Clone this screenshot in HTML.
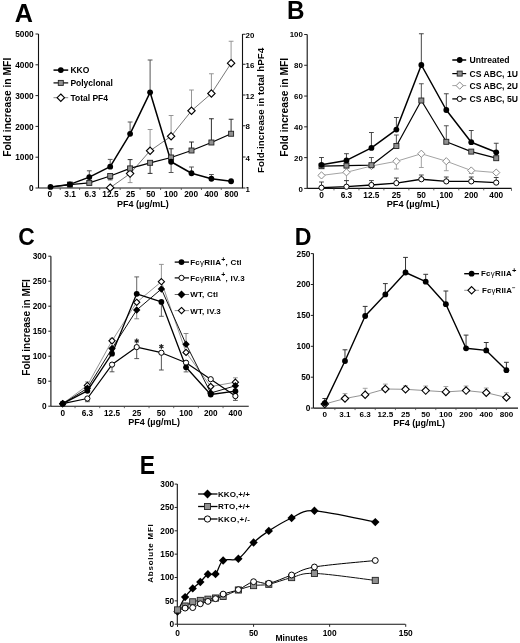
<!DOCTYPE html>
<html><head><meta charset="utf-8"><style>
html,body{margin:0;padding:0;background:#fff;}
svg{display:block;font-family:"Liberation Sans", sans-serif;filter:blur(0.3px);}
</style></head><body>
<svg width="520" height="643" viewBox="0 0 520 643">
<rect width="520" height="643" fill="#fff"/>
<text transform="translate(14.87 22.0) scale(0.996 1)" font-size="25.3" font-weight="bold">A</text>
<line x1="38.5" y1="34" x2="38.5" y2="188" stroke="#111" stroke-width="1.1"/>
<line x1="242.5" y1="34" x2="242.5" y2="188" stroke="#111" stroke-width="1.1"/>
<line x1="38.5" y1="188" x2="243.0" y2="188" stroke="#111" stroke-width="1.1"/>
<line x1="35.5" y1="188.0" x2="38.5" y2="188.0" stroke="#222" stroke-width="1"/>
<text x="33.7" y="191.2" font-size="8.3" font-weight="bold" text-anchor="end" fill="#000">0</text>
<line x1="35.5" y1="157.2" x2="38.5" y2="157.2" stroke="#222" stroke-width="1"/>
<text x="33.7" y="160.39999999999998" font-size="8.3" font-weight="bold" text-anchor="end" fill="#000">1000</text>
<line x1="35.5" y1="126.4" x2="38.5" y2="126.4" stroke="#222" stroke-width="1"/>
<text x="33.7" y="129.6" font-size="8.3" font-weight="bold" text-anchor="end" fill="#000">2000</text>
<line x1="35.5" y1="95.6" x2="38.5" y2="95.6" stroke="#222" stroke-width="1"/>
<text x="33.7" y="98.8" font-size="8.3" font-weight="bold" text-anchor="end" fill="#000">3000</text>
<line x1="35.5" y1="64.8" x2="38.5" y2="64.8" stroke="#222" stroke-width="1"/>
<text x="33.7" y="68.0" font-size="8.3" font-weight="bold" text-anchor="end" fill="#000">4000</text>
<line x1="35.5" y1="34.0" x2="38.5" y2="34.0" stroke="#222" stroke-width="1"/>
<text x="33.7" y="37.2" font-size="8.3" font-weight="bold" text-anchor="end" fill="#000">5000</text>
<line x1="242.5" y1="34.25" x2="245.5" y2="34.25" stroke="#222" stroke-width="1"/>
<text x="245.6" y="37.75" font-size="7.9" font-weight="bold" text-anchor="start" fill="#000">20</text>
<line x1="242.5" y1="64.25" x2="245.5" y2="64.25" stroke="#222" stroke-width="1"/>
<text x="245.6" y="67.75" font-size="7.9" font-weight="bold" text-anchor="start" fill="#000">16</text>
<line x1="242.5" y1="95" x2="245.5" y2="95" stroke="#222" stroke-width="1"/>
<text x="245.6" y="98.5" font-size="7.9" font-weight="bold" text-anchor="start" fill="#000">12</text>
<line x1="242.5" y1="125.75" x2="245.5" y2="125.75" stroke="#222" stroke-width="1"/>
<text x="245.6" y="129.25" font-size="7.9" font-weight="bold" text-anchor="start" fill="#000">8</text>
<line x1="242.5" y1="157" x2="245.5" y2="157" stroke="#222" stroke-width="1"/>
<text x="245.6" y="160.5" font-size="7.9" font-weight="bold" text-anchor="start" fill="#000">4</text>
<line x1="242.5" y1="188" x2="245.5" y2="188" stroke="#222" stroke-width="1"/>
<text x="245.6" y="191.5" font-size="7.9" font-weight="bold" text-anchor="start" fill="#000">1</text>
<line x1="60.2" y1="188" x2="60.2" y2="190" stroke="#444" stroke-width="0.8"/>
<line x1="79.6" y1="188" x2="79.6" y2="190" stroke="#444" stroke-width="0.8"/>
<line x1="99.75" y1="188" x2="99.75" y2="190" stroke="#444" stroke-width="0.8"/>
<line x1="120.15" y1="188" x2="120.15" y2="190" stroke="#444" stroke-width="0.8"/>
<line x1="140.1" y1="188" x2="140.1" y2="190" stroke="#444" stroke-width="0.8"/>
<line x1="160.6" y1="188" x2="160.6" y2="190" stroke="#444" stroke-width="0.8"/>
<line x1="181.3" y1="188" x2="181.3" y2="190" stroke="#444" stroke-width="0.8"/>
<line x1="201.45" y1="188" x2="201.45" y2="190" stroke="#444" stroke-width="0.8"/>
<line x1="221.25" y1="188" x2="221.25" y2="190" stroke="#444" stroke-width="0.8"/>
<text x="49.9" y="196.7" font-size="8.3" font-weight="bold" text-anchor="middle" fill="#000">0</text>
<text x="70.08" y="196.7" font-size="8.3" font-weight="bold" text-anchor="middle" fill="#000">3.1</text>
<text x="90.26" y="196.7" font-size="8.3" font-weight="bold" text-anchor="middle" fill="#000">6.3</text>
<text x="110.44" y="196.7" font-size="8.3" font-weight="bold" text-anchor="middle" fill="#000">12.5</text>
<text x="130.62" y="196.7" font-size="8.3" font-weight="bold" text-anchor="middle" fill="#000">25</text>
<text x="150.8" y="196.7" font-size="8.3" font-weight="bold" text-anchor="middle" fill="#000">50</text>
<text x="170.98" y="196.7" font-size="8.3" font-weight="bold" text-anchor="middle" fill="#000">100</text>
<text x="191.16" y="196.7" font-size="8.3" font-weight="bold" text-anchor="middle" fill="#000">200</text>
<text x="211.34" y="196.7" font-size="8.3" font-weight="bold" text-anchor="middle" fill="#000">400</text>
<text x="231.52" y="196.7" font-size="8.3" font-weight="bold" text-anchor="middle" fill="#000">800</text>
<text x="142.8" y="206.9" font-size="9" font-weight="bold" text-anchor="middle" fill="#000">PF4 (µg/mL)</text>
<text x="11.3" y="107.25" font-size="10.3" font-weight="bold" text-anchor="middle" fill="#000" transform="rotate(-90 11.3 107.25)">Fold increase in MFI</text>
<text x="263.8" y="110.35" font-size="9.8" font-weight="bold" text-anchor="middle" fill="#000" transform="rotate(-90 263.8 110.35)">Fold-increase in total hPF4</text>
<line x1="130.1" y1="173.6" x2="130.1" y2="182.6" stroke="#8a8a8a" stroke-width="0.9"/>
<line x1="127.69999999999999" y1="182.6" x2="132.5" y2="182.6" stroke="#8a8a8a" stroke-width="0.9"/>
<line x1="150.1" y1="150.75" x2="150.1" y2="129.5" stroke="#8a8a8a" stroke-width="0.9"/>
<line x1="147.7" y1="129.5" x2="152.5" y2="129.5" stroke="#8a8a8a" stroke-width="0.9"/>
<line x1="171.1" y1="136.25" x2="171.1" y2="115.5" stroke="#8a8a8a" stroke-width="0.9"/>
<line x1="168.7" y1="115.5" x2="173.5" y2="115.5" stroke="#8a8a8a" stroke-width="0.9"/>
<line x1="191.5" y1="110.75" x2="191.5" y2="90" stroke="#8a8a8a" stroke-width="0.9"/>
<line x1="189.1" y1="90" x2="193.9" y2="90" stroke="#8a8a8a" stroke-width="0.9"/>
<line x1="211.4" y1="93.5" x2="211.4" y2="73.75" stroke="#8a8a8a" stroke-width="0.9"/>
<line x1="209.0" y1="73.75" x2="213.8" y2="73.75" stroke="#8a8a8a" stroke-width="0.9"/>
<line x1="231.1" y1="63.2" x2="231.1" y2="41.25" stroke="#8a8a8a" stroke-width="0.9"/>
<line x1="228.7" y1="41.25" x2="233.5" y2="41.25" stroke="#8a8a8a" stroke-width="0.9"/>
<line x1="110.2" y1="176" x2="110.2" y2="179.8" stroke="#1a1a1a" stroke-width="0.9"/>
<line x1="107.8" y1="179.8" x2="112.60000000000001" y2="179.8" stroke="#1a1a1a" stroke-width="0.9"/>
<line x1="130.1" y1="168.4" x2="130.1" y2="159.6" stroke="#1a1a1a" stroke-width="0.9"/>
<line x1="127.69999999999999" y1="159.6" x2="132.5" y2="159.6" stroke="#1a1a1a" stroke-width="0.9"/>
<line x1="150.1" y1="162.8" x2="150.1" y2="173.4" stroke="#1a1a1a" stroke-width="0.9"/>
<line x1="147.7" y1="173.4" x2="152.5" y2="173.4" stroke="#1a1a1a" stroke-width="0.9"/>
<line x1="171.1" y1="157.5" x2="171.1" y2="148.75" stroke="#1a1a1a" stroke-width="0.9"/>
<line x1="168.7" y1="148.75" x2="173.5" y2="148.75" stroke="#1a1a1a" stroke-width="0.9"/>
<line x1="191.5" y1="150.5" x2="191.5" y2="142" stroke="#1a1a1a" stroke-width="0.9"/>
<line x1="189.1" y1="142" x2="193.9" y2="142" stroke="#1a1a1a" stroke-width="0.9"/>
<line x1="211.4" y1="142.5" x2="211.4" y2="118.75" stroke="#1a1a1a" stroke-width="0.9"/>
<line x1="209.0" y1="118.75" x2="213.8" y2="118.75" stroke="#1a1a1a" stroke-width="0.9"/>
<line x1="231.1" y1="133.75" x2="231.1" y2="119.25" stroke="#1a1a1a" stroke-width="0.9"/>
<line x1="228.7" y1="119.25" x2="233.5" y2="119.25" stroke="#1a1a1a" stroke-width="0.9"/>
<line x1="89.3" y1="177.1" x2="89.3" y2="170.8" stroke="#555" stroke-width="1.0"/>
<line x1="86.89999999999999" y1="170.8" x2="91.7" y2="170.8" stroke="#555" stroke-width="1.0"/>
<line x1="110.2" y1="166.7" x2="110.2" y2="159.4" stroke="#555" stroke-width="1.0"/>
<line x1="107.8" y1="159.4" x2="112.60000000000001" y2="159.4" stroke="#555" stroke-width="1.0"/>
<line x1="130.1" y1="133.8" x2="130.1" y2="122" stroke="#555" stroke-width="1.0"/>
<line x1="127.69999999999999" y1="122" x2="132.5" y2="122" stroke="#555" stroke-width="1.0"/>
<line x1="150.1" y1="92.3" x2="150.1" y2="60" stroke="#555" stroke-width="1.0"/>
<line x1="147.7" y1="60" x2="152.5" y2="60" stroke="#555" stroke-width="1.0"/>
<line x1="171.1" y1="161.75" x2="171.1" y2="172.5" stroke="#555" stroke-width="1.0"/>
<line x1="168.7" y1="172.5" x2="173.5" y2="172.5" stroke="#555" stroke-width="1.0"/>
<line x1="191.5" y1="173.25" x2="191.5" y2="167" stroke="#555" stroke-width="1.0"/>
<line x1="189.1" y1="167" x2="193.9" y2="167" stroke="#555" stroke-width="1.0"/>
<line x1="211.4" y1="178.75" x2="211.4" y2="174.5" stroke="#555" stroke-width="1.0"/>
<line x1="209.0" y1="174.5" x2="213.8" y2="174.5" stroke="#555" stroke-width="1.0"/>
<polyline points="110.20,187.70 130.10,173.60 150.10,150.75 171.10,136.25 191.50,110.75 211.40,93.50 231.10,63.20" fill="none" stroke="#555" stroke-width="0.8" stroke-linejoin="round"/>
<polyline points="50.50,187.00 69.90,184.60 89.30,182.90 110.20,176.00 130.10,168.40 150.10,162.80 171.10,157.50 191.50,150.50 211.40,142.50 231.10,133.75" fill="none" stroke="#000" stroke-width="1.2" stroke-linejoin="round"/>
<polyline points="50.50,186.90 69.90,184.40 89.30,177.10 110.20,166.70 130.10,133.80 150.10,92.30 171.10,161.75 191.50,173.25 211.40,178.75 231.10,181.25" fill="none" stroke="#000" stroke-width="1.5" stroke-linejoin="round"/>
<path d="M110.2 184.0L113.9 187.7L110.2 191.39999999999998L106.5 187.7Z" fill="#fff" stroke="#000" stroke-width="1.1"/>
<path d="M130.1 169.9L133.79999999999998 173.6L130.1 177.29999999999998L126.39999999999999 173.6Z" fill="#fff" stroke="#000" stroke-width="1.1"/>
<path d="M150.1 147.05L153.79999999999998 150.75L150.1 154.45L146.4 150.75Z" fill="#fff" stroke="#000" stroke-width="1.1"/>
<path d="M171.1 132.55L174.79999999999998 136.25L171.1 139.95L167.4 136.25Z" fill="#fff" stroke="#000" stroke-width="1.1"/>
<path d="M191.5 107.05L195.2 110.75L191.5 114.45L187.8 110.75Z" fill="#fff" stroke="#000" stroke-width="1.1"/>
<path d="M211.4 89.8L215.1 93.5L211.4 97.2L207.70000000000002 93.5Z" fill="#fff" stroke="#000" stroke-width="1.1"/>
<path d="M231.1 59.5L234.79999999999998 63.2L231.1 66.9L227.4 63.2Z" fill="#fff" stroke="#000" stroke-width="1.1"/>
<rect x="67.4" y="182.1" width="5.0" height="5.0" fill="#909090" stroke="#222" stroke-width="0.9"/>
<rect x="86.8" y="180.4" width="5.0" height="5.0" fill="#909090" stroke="#222" stroke-width="0.9"/>
<rect x="107.7" y="173.5" width="5.0" height="5.0" fill="#909090" stroke="#222" stroke-width="0.9"/>
<rect x="127.6" y="165.9" width="5.0" height="5.0" fill="#909090" stroke="#222" stroke-width="0.9"/>
<rect x="147.6" y="160.3" width="5.0" height="5.0" fill="#909090" stroke="#222" stroke-width="0.9"/>
<rect x="168.6" y="155.0" width="5.0" height="5.0" fill="#909090" stroke="#222" stroke-width="0.9"/>
<rect x="189.0" y="148.0" width="5.0" height="5.0" fill="#909090" stroke="#222" stroke-width="0.9"/>
<rect x="208.9" y="140.0" width="5.0" height="5.0" fill="#909090" stroke="#222" stroke-width="0.9"/>
<rect x="228.6" y="131.25" width="5.0" height="5.0" fill="#909090" stroke="#222" stroke-width="0.9"/>
<circle cx="50.5" cy="186.9" r="2.9" fill="#000"/>
<circle cx="69.9" cy="184.4" r="2.9" fill="#000"/>
<circle cx="89.3" cy="177.1" r="2.9" fill="#000"/>
<circle cx="110.2" cy="166.7" r="2.9" fill="#000"/>
<circle cx="130.1" cy="133.8" r="2.9" fill="#000"/>
<circle cx="150.1" cy="92.3" r="2.9" fill="#000"/>
<circle cx="171.1" cy="161.75" r="2.9" fill="#000"/>
<circle cx="191.5" cy="173.25" r="2.9" fill="#000"/>
<circle cx="211.4" cy="178.75" r="2.9" fill="#000"/>
<circle cx="231.1" cy="181.25" r="2.9" fill="#000"/>
<line x1="53.5" y1="70.1" x2="68.2" y2="70.1" stroke="#000" stroke-width="1.5"/>
<circle cx="60.8" cy="70.1" r="2.9" fill="#000"/>
<text x="70.4" y="73.1" font-size="8.5" font-weight="bold" text-anchor="start" fill="#000">KKO</text>
<line x1="53.5" y1="82.9" x2="68.2" y2="82.9" stroke="#000" stroke-width="1.2"/>
<rect x="58.3" y="80.4" width="5.0" height="5.0" fill="#909090" stroke="#222" stroke-width="0.9"/>
<text x="70.4" y="85.9" font-size="8.5" font-weight="bold" text-anchor="start" fill="#000">Polyclonal</text>
<line x1="53.5" y1="97.7" x2="68.2" y2="97.7" stroke="#777" stroke-width="0.9"/>
<path d="M60.8 94.0L64.5 97.7L60.8 101.4L57.099999999999994 97.7Z" fill="#fff" stroke="#000" stroke-width="1.1"/>
<text x="70.4" y="100.7" font-size="8.5" font-weight="bold" text-anchor="start" fill="#000">Total PF4</text>
<text transform="translate(286.98 19.2) scale(0.959 1)" font-size="25.3" font-weight="bold">B</text>
<line x1="307.2" y1="34.5" x2="307.2" y2="188.4" stroke="#111" stroke-width="1.1"/>
<line x1="307.2" y1="188.4" x2="511.5" y2="188.4" stroke="#111" stroke-width="1.1"/>
<line x1="511.5" y1="188.4" x2="511.5" y2="190.9" stroke="#444" stroke-width="0.8"/>
<line x1="304.2" y1="188.4" x2="307.2" y2="188.4" stroke="#222" stroke-width="1"/>
<text x="302.8" y="191.5" font-size="7.9" font-weight="bold" text-anchor="end" fill="#000">0</text>
<line x1="304.2" y1="157.62" x2="307.2" y2="157.62" stroke="#222" stroke-width="1"/>
<text x="302.8" y="160.72" font-size="7.9" font-weight="bold" text-anchor="end" fill="#000">20</text>
<line x1="304.2" y1="126.84" x2="307.2" y2="126.84" stroke="#222" stroke-width="1"/>
<text x="302.8" y="129.94" font-size="7.9" font-weight="bold" text-anchor="end" fill="#000">40</text>
<line x1="304.2" y1="96.06" x2="307.2" y2="96.06" stroke="#222" stroke-width="1"/>
<text x="302.8" y="99.16" font-size="7.9" font-weight="bold" text-anchor="end" fill="#000">60</text>
<line x1="304.2" y1="65.28" x2="307.2" y2="65.28" stroke="#222" stroke-width="1"/>
<text x="302.8" y="68.38" font-size="7.9" font-weight="bold" text-anchor="end" fill="#000">80</text>
<line x1="304.2" y1="34.5" x2="307.2" y2="34.5" stroke="#222" stroke-width="1"/>
<text x="302.8" y="36.5" font-size="7.9" font-weight="bold" text-anchor="end" fill="#000">100</text>
<line x1="333.98" y1="188.4" x2="333.98" y2="190.4" stroke="#444" stroke-width="0.8"/>
<line x1="358.94" y1="188.4" x2="358.94" y2="190.4" stroke="#444" stroke-width="0.8"/>
<line x1="383.9" y1="188.4" x2="383.9" y2="190.4" stroke="#444" stroke-width="0.8"/>
<line x1="408.86" y1="188.4" x2="408.86" y2="190.4" stroke="#444" stroke-width="0.8"/>
<line x1="433.82000000000005" y1="188.4" x2="433.82000000000005" y2="190.4" stroke="#444" stroke-width="0.8"/>
<line x1="458.78" y1="188.4" x2="458.78" y2="190.4" stroke="#444" stroke-width="0.8"/>
<line x1="483.74" y1="188.4" x2="483.74" y2="190.4" stroke="#444" stroke-width="0.8"/>
<text x="321.5" y="198.1" font-size="8.3" font-weight="bold" text-anchor="middle" fill="#000">0</text>
<text x="346.46" y="198.1" font-size="8.3" font-weight="bold" text-anchor="middle" fill="#000">6.3</text>
<text x="371.42" y="198.1" font-size="8.3" font-weight="bold" text-anchor="middle" fill="#000">12.5</text>
<text x="396.38" y="198.1" font-size="8.3" font-weight="bold" text-anchor="middle" fill="#000">25</text>
<text x="421.34000000000003" y="198.1" font-size="8.3" font-weight="bold" text-anchor="middle" fill="#000">50</text>
<text x="446.3" y="198.1" font-size="8.3" font-weight="bold" text-anchor="middle" fill="#000">100</text>
<text x="471.26" y="198.1" font-size="8.3" font-weight="bold" text-anchor="middle" fill="#000">200</text>
<text x="496.22" y="198.1" font-size="8.3" font-weight="bold" text-anchor="middle" fill="#000">400</text>
<text x="413.1" y="207.3" font-size="9.2" font-weight="bold" text-anchor="middle" fill="#000">PF4 (µg/mL)</text>
<text x="288.1" y="107.35" font-size="10.3" font-weight="bold" text-anchor="middle" fill="#000" transform="rotate(-90 288.1 107.35)">Fold increase in MFI</text>
<line x1="346.46" y1="172.3" x2="346.46" y2="180.6" stroke="#9a9a9a" stroke-width="0.9"/>
<line x1="344.06" y1="180.6" x2="348.85999999999996" y2="180.6" stroke="#9a9a9a" stroke-width="0.9"/>
<line x1="396.38" y1="161.3" x2="396.38" y2="169" stroke="#9a9a9a" stroke-width="0.9"/>
<line x1="393.98" y1="169" x2="398.78" y2="169" stroke="#9a9a9a" stroke-width="0.9"/>
<line x1="421.34000000000003" y1="153.75" x2="421.34000000000003" y2="167.5" stroke="#9a9a9a" stroke-width="0.9"/>
<line x1="418.94000000000005" y1="167.5" x2="423.74" y2="167.5" stroke="#9a9a9a" stroke-width="0.9"/>
<line x1="446.3" y1="161.2" x2="446.3" y2="170.7" stroke="#9a9a9a" stroke-width="0.9"/>
<line x1="443.90000000000003" y1="170.7" x2="448.7" y2="170.7" stroke="#9a9a9a" stroke-width="0.9"/>
<line x1="471.26" y1="170.5" x2="471.26" y2="173.5" stroke="#9a9a9a" stroke-width="0.9"/>
<line x1="468.86" y1="173.5" x2="473.65999999999997" y2="173.5" stroke="#9a9a9a" stroke-width="0.9"/>
<line x1="321.5" y1="187.7" x2="321.5" y2="182" stroke="#333" stroke-width="0.9"/>
<line x1="319.1" y1="182" x2="323.9" y2="182" stroke="#333" stroke-width="0.9"/>
<line x1="346.46" y1="186.7" x2="346.46" y2="180.6" stroke="#333" stroke-width="0.9"/>
<line x1="344.06" y1="180.6" x2="348.85999999999996" y2="180.6" stroke="#333" stroke-width="0.9"/>
<line x1="371.42" y1="185" x2="371.42" y2="180.6" stroke="#333" stroke-width="0.9"/>
<line x1="369.02000000000004" y1="180.6" x2="373.82" y2="180.6" stroke="#333" stroke-width="0.9"/>
<line x1="396.38" y1="183.1" x2="396.38" y2="178" stroke="#333" stroke-width="0.9"/>
<line x1="393.98" y1="178" x2="398.78" y2="178" stroke="#333" stroke-width="0.9"/>
<line x1="421.34000000000003" y1="179.25" x2="421.34000000000003" y2="175" stroke="#333" stroke-width="0.9"/>
<line x1="418.94000000000005" y1="175" x2="423.74" y2="175" stroke="#333" stroke-width="0.9"/>
<line x1="446.3" y1="181.4" x2="446.3" y2="177" stroke="#333" stroke-width="0.9"/>
<line x1="443.90000000000003" y1="177" x2="448.7" y2="177" stroke="#333" stroke-width="0.9"/>
<line x1="471.26" y1="181.4" x2="471.26" y2="177" stroke="#333" stroke-width="0.9"/>
<line x1="468.86" y1="177" x2="473.65999999999997" y2="177" stroke="#333" stroke-width="0.9"/>
<line x1="496.22" y1="182.6" x2="496.22" y2="177.5" stroke="#333" stroke-width="0.9"/>
<line x1="493.82000000000005" y1="177.5" x2="498.62" y2="177.5" stroke="#333" stroke-width="0.9"/>
<line x1="371.42" y1="165.2" x2="371.42" y2="157.5" stroke="#444" stroke-width="0.9"/>
<line x1="369.02000000000004" y1="157.5" x2="373.82" y2="157.5" stroke="#444" stroke-width="0.9"/>
<line x1="396.38" y1="146" x2="396.38" y2="135" stroke="#444" stroke-width="0.9"/>
<line x1="393.98" y1="135" x2="398.78" y2="135" stroke="#444" stroke-width="0.9"/>
<line x1="421.34000000000003" y1="100.5" x2="421.34000000000003" y2="83.75" stroke="#444" stroke-width="0.9"/>
<line x1="418.94000000000005" y1="83.75" x2="423.74" y2="83.75" stroke="#444" stroke-width="0.9"/>
<line x1="446.3" y1="141.8" x2="446.3" y2="125.75" stroke="#444" stroke-width="0.9"/>
<line x1="443.90000000000003" y1="125.75" x2="448.7" y2="125.75" stroke="#444" stroke-width="0.9"/>
<line x1="321.5" y1="164.8" x2="321.5" y2="157.5" stroke="#333" stroke-width="0.9"/>
<line x1="319.1" y1="157.5" x2="323.9" y2="157.5" stroke="#333" stroke-width="0.9"/>
<line x1="346.46" y1="160.4" x2="346.46" y2="153.7" stroke="#333" stroke-width="0.9"/>
<line x1="344.06" y1="153.7" x2="348.85999999999996" y2="153.7" stroke="#333" stroke-width="0.9"/>
<line x1="371.42" y1="147.9" x2="371.42" y2="132.5" stroke="#333" stroke-width="0.9"/>
<line x1="369.02000000000004" y1="132.5" x2="373.82" y2="132.5" stroke="#333" stroke-width="0.9"/>
<line x1="396.38" y1="129.6" x2="396.38" y2="117.5" stroke="#333" stroke-width="0.9"/>
<line x1="393.98" y1="117.5" x2="398.78" y2="117.5" stroke="#333" stroke-width="0.9"/>
<line x1="421.34000000000003" y1="65" x2="421.34000000000003" y2="33.75" stroke="#333" stroke-width="0.9"/>
<line x1="418.94000000000005" y1="33.75" x2="423.74" y2="33.75" stroke="#333" stroke-width="0.9"/>
<line x1="446.3" y1="110" x2="446.3" y2="93.75" stroke="#333" stroke-width="0.9"/>
<line x1="443.90000000000003" y1="93.75" x2="448.7" y2="93.75" stroke="#333" stroke-width="0.9"/>
<line x1="471.26" y1="142.2" x2="471.26" y2="130.5" stroke="#333" stroke-width="0.9"/>
<line x1="468.86" y1="130.5" x2="473.65999999999997" y2="130.5" stroke="#333" stroke-width="0.9"/>
<line x1="496.22" y1="152.3" x2="496.22" y2="143.25" stroke="#333" stroke-width="0.9"/>
<line x1="493.82000000000005" y1="143.25" x2="498.62" y2="143.25" stroke="#333" stroke-width="0.9"/>
<polyline points="321.50,175.40 346.46,172.30 371.42,166.00 396.38,161.30 421.34,153.75 446.30,161.20 471.26,170.50 496.22,172.60" fill="none" stroke="#999" stroke-width="0.9" stroke-linejoin="round"/>
<polyline points="321.50,187.70 346.46,186.70 371.42,185.00 396.38,183.10 421.34,179.25 446.30,181.40 471.26,181.40 496.22,182.60" fill="none" stroke="#000" stroke-width="1.3" stroke-linejoin="round"/>
<polyline points="321.50,166.20 346.46,165.60 371.42,165.20 396.38,146.00 421.34,100.50 446.30,141.80 471.26,151.60 496.22,158.20" fill="none" stroke="#000" stroke-width="1.2" stroke-linejoin="round"/>
<polyline points="321.50,164.80 346.46,160.40 371.42,147.90 396.38,129.60 421.34,65.00 446.30,110.00 471.26,142.20 496.22,152.30" fill="none" stroke="#000" stroke-width="1.5" stroke-linejoin="round"/>
<path d="M321.5 171.8L325.1 175.4L321.5 179.0L317.9 175.4Z" fill="#fff" stroke="#8c8c8c" stroke-width="1"/>
<path d="M346.46 168.70000000000002L350.06 172.3L346.46 175.9L342.85999999999996 172.3Z" fill="#fff" stroke="#8c8c8c" stroke-width="1"/>
<path d="M371.42 162.4L375.02000000000004 166L371.42 169.6L367.82 166Z" fill="#fff" stroke="#8c8c8c" stroke-width="1"/>
<path d="M396.38 157.70000000000002L399.98 161.3L396.38 164.9L392.78 161.3Z" fill="#fff" stroke="#8c8c8c" stroke-width="1"/>
<path d="M421.34000000000003 150.15L424.94000000000005 153.75L421.34000000000003 157.35L417.74 153.75Z" fill="#fff" stroke="#8c8c8c" stroke-width="1"/>
<path d="M446.3 157.6L449.90000000000003 161.2L446.3 164.79999999999998L442.7 161.2Z" fill="#fff" stroke="#8c8c8c" stroke-width="1"/>
<path d="M471.26 166.9L474.86 170.5L471.26 174.1L467.65999999999997 170.5Z" fill="#fff" stroke="#8c8c8c" stroke-width="1"/>
<path d="M496.22 169.0L499.82000000000005 172.6L496.22 176.2L492.62 172.6Z" fill="#fff" stroke="#8c8c8c" stroke-width="1"/>
<circle cx="321.5" cy="187.7" r="2.6" fill="#fff" stroke="#000" stroke-width="1"/>
<circle cx="346.46" cy="186.7" r="2.6" fill="#fff" stroke="#000" stroke-width="1"/>
<circle cx="371.42" cy="185" r="2.6" fill="#fff" stroke="#000" stroke-width="1"/>
<circle cx="396.38" cy="183.1" r="2.6" fill="#fff" stroke="#000" stroke-width="1"/>
<circle cx="421.34000000000003" cy="179.25" r="2.6" fill="#fff" stroke="#000" stroke-width="1"/>
<circle cx="446.3" cy="181.4" r="2.6" fill="#fff" stroke="#000" stroke-width="1"/>
<circle cx="471.26" cy="181.4" r="2.6" fill="#fff" stroke="#000" stroke-width="1"/>
<circle cx="496.22" cy="182.6" r="2.6" fill="#fff" stroke="#000" stroke-width="1"/>
<rect x="319.0" y="163.7" width="5.0" height="5.0" fill="#909090" stroke="#222" stroke-width="0.9"/>
<rect x="343.96" y="163.1" width="5.0" height="5.0" fill="#909090" stroke="#222" stroke-width="0.9"/>
<rect x="368.92" y="162.7" width="5.0" height="5.0" fill="#909090" stroke="#222" stroke-width="0.9"/>
<rect x="393.88" y="143.5" width="5.0" height="5.0" fill="#909090" stroke="#222" stroke-width="0.9"/>
<rect x="418.84000000000003" y="98.0" width="5.0" height="5.0" fill="#909090" stroke="#222" stroke-width="0.9"/>
<rect x="443.8" y="139.3" width="5.0" height="5.0" fill="#909090" stroke="#222" stroke-width="0.9"/>
<rect x="468.76" y="149.1" width="5.0" height="5.0" fill="#909090" stroke="#222" stroke-width="0.9"/>
<rect x="493.72" y="155.7" width="5.0" height="5.0" fill="#909090" stroke="#222" stroke-width="0.9"/>
<circle cx="321.5" cy="164.8" r="2.9" fill="#000"/>
<circle cx="346.46" cy="160.4" r="2.9" fill="#000"/>
<circle cx="371.42" cy="147.9" r="2.9" fill="#000"/>
<circle cx="396.38" cy="129.6" r="2.9" fill="#000"/>
<circle cx="421.34000000000003" cy="65" r="2.9" fill="#000"/>
<circle cx="446.3" cy="110" r="2.9" fill="#000"/>
<circle cx="471.26" cy="142.2" r="2.9" fill="#000"/>
<circle cx="496.22" cy="152.3" r="2.9" fill="#000"/>
<line x1="452.3" y1="60" x2="466.2" y2="60" stroke="#000" stroke-width="1.5"/>
<circle cx="459.7" cy="60" r="2.9" fill="#000"/>
<text x="469.5" y="63.1" font-size="8.6" font-weight="bold" text-anchor="start" fill="#000">Untreated</text>
<line x1="452.3" y1="73.6" x2="466.2" y2="73.6" stroke="#000" stroke-width="1.2"/>
<rect x="457.2" y="71.1" width="5.0" height="5.0" fill="#909090" stroke="#222" stroke-width="0.9"/>
<text x="469.5" y="76.69999999999999" font-size="8.6" font-weight="bold" text-anchor="start" fill="#000">CS ABC, 1U</text>
<line x1="452.3" y1="85.6" x2="466.2" y2="85.6" stroke="#999" stroke-width="0.9"/>
<path d="M459.7 82.0L463.3 85.6L459.7 89.19999999999999L456.09999999999997 85.6Z" fill="#fff" stroke="#8c8c8c" stroke-width="1"/>
<text x="469.5" y="88.69999999999999" font-size="8.6" font-weight="bold" text-anchor="start" fill="#000">CS ABC, 2U</text>
<line x1="452.3" y1="98.9" x2="466.2" y2="98.9" stroke="#000" stroke-width="1.3"/>
<circle cx="459.7" cy="98.9" r="2.6" fill="#fff" stroke="#000" stroke-width="1"/>
<text x="469.5" y="102.0" font-size="8.6" font-weight="bold" text-anchor="start" fill="#000">CS ABC, 5U</text>
<text transform="translate(18.27 245.0) scale(0.95 1)" font-size="24" font-weight="bold">C</text>
<line x1="50.9" y1="256.2" x2="50.9" y2="406.2" stroke="#111" stroke-width="1.1"/>
<line x1="50.9" y1="406.2" x2="248.75" y2="406.2" stroke="#111" stroke-width="1.1"/>
<line x1="48.3" y1="406.2" x2="50.9" y2="406.2" stroke="#222" stroke-width="1"/>
<text x="46.5" y="409.09999999999997" font-size="8.3" font-weight="bold" text-anchor="end" fill="#000">0</text>
<line x1="48.3" y1="381.2" x2="50.9" y2="381.2" stroke="#222" stroke-width="1"/>
<text x="46.5" y="384.09999999999997" font-size="8.3" font-weight="bold" text-anchor="end" fill="#000">50</text>
<line x1="48.3" y1="356.2" x2="50.9" y2="356.2" stroke="#222" stroke-width="1"/>
<text x="46.5" y="359.09999999999997" font-size="8.3" font-weight="bold" text-anchor="end" fill="#000">100</text>
<line x1="48.3" y1="331.2" x2="50.9" y2="331.2" stroke="#222" stroke-width="1"/>
<text x="46.5" y="334.09999999999997" font-size="8.3" font-weight="bold" text-anchor="end" fill="#000">150</text>
<line x1="48.3" y1="306.2" x2="50.9" y2="306.2" stroke="#222" stroke-width="1"/>
<text x="46.5" y="309.09999999999997" font-size="8.3" font-weight="bold" text-anchor="end" fill="#000">200</text>
<line x1="48.3" y1="281.2" x2="50.9" y2="281.2" stroke="#222" stroke-width="1"/>
<text x="46.5" y="284.09999999999997" font-size="8.3" font-weight="bold" text-anchor="end" fill="#000">250</text>
<line x1="48.3" y1="256.2" x2="50.9" y2="256.2" stroke="#222" stroke-width="1"/>
<text x="46.5" y="259.09999999999997" font-size="8.3" font-weight="bold" text-anchor="end" fill="#000">300</text>
<line x1="75.035" y1="406.2" x2="75.035" y2="408.2" stroke="#444" stroke-width="0.8"/>
<line x1="99.70500000000001" y1="406.2" x2="99.70500000000001" y2="408.2" stroke="#444" stroke-width="0.8"/>
<line x1="124.375" y1="406.2" x2="124.375" y2="408.2" stroke="#444" stroke-width="0.8"/>
<line x1="149.04500000000002" y1="406.2" x2="149.04500000000002" y2="408.2" stroke="#444" stroke-width="0.8"/>
<line x1="173.715" y1="406.2" x2="173.715" y2="408.2" stroke="#444" stroke-width="0.8"/>
<line x1="198.38500000000002" y1="406.2" x2="198.38500000000002" y2="408.2" stroke="#444" stroke-width="0.8"/>
<line x1="223.055" y1="406.2" x2="223.055" y2="408.2" stroke="#444" stroke-width="0.8"/>
<text x="62.7" y="415.5" font-size="8.2" font-weight="bold" text-anchor="middle" fill="#000">0</text>
<text x="87.37" y="415.5" font-size="8.2" font-weight="bold" text-anchor="middle" fill="#000">6.3</text>
<text x="112.04" y="415.5" font-size="8.2" font-weight="bold" text-anchor="middle" fill="#000">12.5</text>
<text x="136.71" y="415.5" font-size="8.2" font-weight="bold" text-anchor="middle" fill="#000">25</text>
<text x="161.38" y="415.5" font-size="8.2" font-weight="bold" text-anchor="middle" fill="#000">50</text>
<text x="186.05" y="415.5" font-size="8.2" font-weight="bold" text-anchor="middle" fill="#000">100</text>
<text x="210.72000000000003" y="415.5" font-size="8.2" font-weight="bold" text-anchor="middle" fill="#000">200</text>
<text x="235.39" y="415.5" font-size="8.2" font-weight="bold" text-anchor="middle" fill="#000">400</text>
<text x="154.1" y="424.6" font-size="9" font-weight="bold" text-anchor="middle" fill="#000">PF4 (µg/mL)</text>
<text x="30.0" y="327.45" font-size="10.05" font-weight="bold" text-anchor="middle" fill="#000" transform="rotate(-90 30.0 327.45)">Fold increase in MFI</text>
<line x1="87.37" y1="385.4" x2="87.37" y2="381.9" stroke="#8a8a8a" stroke-width="0.9"/>
<line x1="84.97" y1="381.9" x2="89.77000000000001" y2="381.9" stroke="#8a8a8a" stroke-width="0.9"/>
<line x1="112.04" y1="340.8" x2="112.04" y2="338.3" stroke="#8a8a8a" stroke-width="0.9"/>
<line x1="109.64" y1="338.3" x2="114.44000000000001" y2="338.3" stroke="#8a8a8a" stroke-width="0.9"/>
<line x1="161.38" y1="281.7" x2="161.38" y2="264.4" stroke="#8a8a8a" stroke-width="0.9"/>
<line x1="158.98" y1="264.4" x2="163.78" y2="264.4" stroke="#8a8a8a" stroke-width="0.9"/>
<line x1="235.39" y1="382.2" x2="235.39" y2="377.8" stroke="#8a8a8a" stroke-width="0.9"/>
<line x1="232.98999999999998" y1="377.8" x2="237.79" y2="377.8" stroke="#8a8a8a" stroke-width="0.9"/>
<line x1="136.71" y1="310" x2="136.71" y2="318.8" stroke="#777" stroke-width="0.9"/>
<line x1="134.31" y1="318.8" x2="139.11" y2="318.8" stroke="#777" stroke-width="0.9"/>
<line x1="186.05" y1="344.2" x2="186.05" y2="333.5" stroke="#777" stroke-width="0.9"/>
<line x1="183.65" y1="333.5" x2="188.45000000000002" y2="333.5" stroke="#777" stroke-width="0.9"/>
<line x1="136.71" y1="293.8" x2="136.71" y2="276.9" stroke="#555" stroke-width="0.9"/>
<line x1="134.31" y1="276.9" x2="139.11" y2="276.9" stroke="#555" stroke-width="0.9"/>
<line x1="161.38" y1="301.9" x2="161.38" y2="316.3" stroke="#555" stroke-width="0.9"/>
<line x1="158.98" y1="316.3" x2="163.78" y2="316.3" stroke="#555" stroke-width="0.9"/>
<line x1="186.05" y1="367.3" x2="186.05" y2="371.9" stroke="#555" stroke-width="0.9"/>
<line x1="183.65" y1="371.9" x2="188.45000000000002" y2="371.9" stroke="#555" stroke-width="0.9"/>
<line x1="87.37" y1="398.5" x2="87.37" y2="401.7" stroke="#444" stroke-width="0.9"/>
<line x1="84.97" y1="401.7" x2="89.77000000000001" y2="401.7" stroke="#444" stroke-width="0.9"/>
<line x1="112.04" y1="364.6" x2="112.04" y2="371.8" stroke="#444" stroke-width="0.9"/>
<line x1="109.64" y1="371.8" x2="114.44000000000001" y2="371.8" stroke="#444" stroke-width="0.9"/>
<line x1="136.71" y1="347.1" x2="136.71" y2="358.6" stroke="#444" stroke-width="0.9"/>
<line x1="134.31" y1="358.6" x2="139.11" y2="358.6" stroke="#444" stroke-width="0.9"/>
<line x1="161.38" y1="352.7" x2="161.38" y2="370" stroke="#444" stroke-width="0.9"/>
<line x1="158.98" y1="370" x2="163.78" y2="370" stroke="#444" stroke-width="0.9"/>
<line x1="235.39" y1="396.1" x2="235.39" y2="400.4" stroke="#444" stroke-width="0.9"/>
<line x1="232.98999999999998" y1="400.4" x2="237.79" y2="400.4" stroke="#444" stroke-width="0.9"/>
<polyline points="62.70,403.70 87.37,385.40 112.04,340.80 136.71,302.30 161.38,281.70 186.05,352.40 210.72,386.50 235.39,382.20" fill="none" stroke="#888" stroke-width="0.9" stroke-linejoin="round"/>
<polyline points="62.70,403.70 87.37,388.30 112.04,348.50 136.71,310.00 161.38,289.00 186.05,344.20 210.72,393.00 235.39,385.80" fill="none" stroke="#111" stroke-width="1.0" stroke-linejoin="round"/>
<polyline points="62.70,403.70 87.37,398.50 112.04,364.60 136.71,347.10 161.38,352.70 186.05,362.70 210.72,379.20 235.39,396.10" fill="none" stroke="#000" stroke-width="1.2" stroke-linejoin="round"/>
<polyline points="62.70,403.70 87.37,390.80 112.04,353.70 136.71,293.80 161.38,301.90 186.05,367.30 210.72,394.50 235.39,391.20" fill="none" stroke="#000" stroke-width="1.3" stroke-linejoin="round"/>
<path d="M62.7 400.592L65.808 403.7L62.7 406.808L59.592000000000006 403.7Z" fill="#fff" stroke="#000" stroke-width="1.1"/>
<path d="M87.37 382.292L90.47800000000001 385.4L87.37 388.508L84.262 385.4Z" fill="#fff" stroke="#000" stroke-width="1.1"/>
<path d="M112.04 337.692L115.14800000000001 340.8L112.04 343.908L108.932 340.8Z" fill="#fff" stroke="#000" stroke-width="1.1"/>
<path d="M136.71 299.192L139.818 302.3L136.71 305.408L133.602 302.3Z" fill="#fff" stroke="#000" stroke-width="1.1"/>
<path d="M161.38 278.592L164.488 281.7L161.38 284.808L158.272 281.7Z" fill="#fff" stroke="#000" stroke-width="1.1"/>
<path d="M186.05 349.292L189.15800000000002 352.4L186.05 355.508L182.942 352.4Z" fill="#fff" stroke="#000" stroke-width="1.1"/>
<path d="M210.72000000000003 383.392L213.82800000000003 386.5L210.72000000000003 389.608L207.61200000000002 386.5Z" fill="#fff" stroke="#000" stroke-width="1.1"/>
<path d="M235.39 379.092L238.498 382.2L235.39 385.308L232.28199999999998 382.2Z" fill="#fff" stroke="#000" stroke-width="1.1"/>
<path d="M62.7 400.0L66.4 403.7L62.7 407.4L59.0 403.7Z" fill="#000"/>
<path d="M87.37 384.6L91.07000000000001 388.3L87.37 392.0L83.67 388.3Z" fill="#000"/>
<path d="M112.04 344.8L115.74000000000001 348.5L112.04 352.2L108.34 348.5Z" fill="#000"/>
<path d="M136.71 306.3L140.41 310L136.71 313.7L133.01000000000002 310Z" fill="#000"/>
<path d="M161.38 285.3L165.07999999999998 289L161.38 292.7L157.68 289Z" fill="#000"/>
<path d="M186.05 340.5L189.75 344.2L186.05 347.9L182.35000000000002 344.2Z" fill="#000"/>
<path d="M210.72000000000003 389.3L214.42000000000002 393L210.72000000000003 396.7L207.02000000000004 393Z" fill="#000"/>
<path d="M235.39 382.1L239.08999999999997 385.8L235.39 389.5L231.69 385.8Z" fill="#000"/>
<circle cx="62.7" cy="403.7" r="2.6" fill="#fff" stroke="#000" stroke-width="1"/>
<circle cx="87.37" cy="398.5" r="2.6" fill="#fff" stroke="#000" stroke-width="1"/>
<circle cx="112.04" cy="364.6" r="2.6" fill="#fff" stroke="#000" stroke-width="1"/>
<circle cx="136.71" cy="347.1" r="2.6" fill="#fff" stroke="#000" stroke-width="1"/>
<circle cx="161.38" cy="352.7" r="2.6" fill="#fff" stroke="#000" stroke-width="1"/>
<circle cx="186.05" cy="362.7" r="2.6" fill="#fff" stroke="#000" stroke-width="1"/>
<circle cx="210.72000000000003" cy="379.2" r="2.6" fill="#fff" stroke="#000" stroke-width="1"/>
<circle cx="235.39" cy="396.1" r="2.6" fill="#fff" stroke="#000" stroke-width="1"/>
<circle cx="62.7" cy="403.7" r="2.9" fill="#000"/>
<circle cx="87.37" cy="390.8" r="2.9" fill="#000"/>
<circle cx="112.04" cy="353.7" r="2.9" fill="#000"/>
<circle cx="136.71" cy="293.8" r="2.9" fill="#000"/>
<circle cx="161.38" cy="301.9" r="2.9" fill="#000"/>
<circle cx="186.05" cy="367.3" r="2.9" fill="#000"/>
<circle cx="210.72000000000003" cy="394.5" r="2.9" fill="#000"/>
<circle cx="235.39" cy="391.2" r="2.9" fill="#000"/>
<line x1="136.71" y1="338.6" x2="136.71" y2="343.4" stroke="#222" stroke-width="1.3"/>
<line x1="134.63" y1="339.8" x2="138.79" y2="342.2" stroke="#222" stroke-width="1.3"/>
<line x1="138.79" y1="339.8" x2="134.63" y2="342.2" stroke="#222" stroke-width="1.3"/>
<line x1="161.38" y1="344.1" x2="161.38" y2="348.9" stroke="#222" stroke-width="1.3"/>
<line x1="159.3" y1="345.3" x2="163.46" y2="347.7" stroke="#222" stroke-width="1.3"/>
<line x1="163.46" y1="345.3" x2="159.3" y2="347.7" stroke="#222" stroke-width="1.3"/>
<line x1="174.7" y1="262.1" x2="189" y2="262.1" stroke="#000" stroke-width="1.3"/>
<circle cx="181.5" cy="262.1" r="2.9" fill="#000"/>
<text x="190.2" y="265.0" font-size="8" font-weight="bold" textLength="51.4" lengthAdjust="spacing">Fc<tspan font-weight="normal">γ</tspan>RIIA<tspan font-size="7" dy="-3.5">+</tspan><tspan dy="3.5">, Ctl</tspan></text>
<line x1="174.7" y1="277.9" x2="189" y2="277.9" stroke="#000" stroke-width="1.2"/>
<circle cx="181.5" cy="277.9" r="2.6" fill="#fff" stroke="#000" stroke-width="1"/>
<text x="190.2" y="280.79999999999995" font-size="8" font-weight="bold" textLength="54.6" lengthAdjust="spacing">Fc<tspan font-weight="normal">γ</tspan>RIIA<tspan font-size="7" dy="-3.5">+</tspan><tspan dy="3.5">, IV.3</tspan></text>
<line x1="174.7" y1="294.5" x2="189" y2="294.5" stroke="#666" stroke-width="1.0"/>
<path d="M181.5 290.504L185.496 294.5L181.5 298.496L177.504 294.5Z" fill="#000"/>
<text x="190.2" y="297.4" font-size="8" font-weight="bold" textLength="27.8" lengthAdjust="spacing">WT, Ctl</text>
<line x1="174.7" y1="310.6" x2="189" y2="310.6" stroke="#888" stroke-width="0.9"/>
<path d="M181.5 307.45500000000004L184.645 310.6L181.5 313.745L178.355 310.6Z" fill="#fff" stroke="#000" stroke-width="1.1"/>
<text x="190.2" y="313.5" font-size="8" font-weight="bold" textLength="30.6" lengthAdjust="spacing">WT, IV.3</text>
<text transform="translate(294.65 244.5) scale(0.94 1)" font-size="24.6" font-weight="bold">D</text>
<line x1="313.4" y1="253.6" x2="313.4" y2="408.1" stroke="#111" stroke-width="1.1"/>
<line x1="313.4" y1="408.1" x2="518" y2="408.1" stroke="#111" stroke-width="1.1"/>
<line x1="310.79999999999995" y1="408.1" x2="313.4" y2="408.1" stroke="#222" stroke-width="1"/>
<text x="310.4" y="411.0" font-size="8.3" font-weight="bold" text-anchor="end" fill="#000">0</text>
<line x1="310.79999999999995" y1="377.20000000000005" x2="313.4" y2="377.20000000000005" stroke="#222" stroke-width="1"/>
<text x="310.4" y="380.1" font-size="8.3" font-weight="bold" text-anchor="end" fill="#000">50</text>
<line x1="310.79999999999995" y1="346.3" x2="313.4" y2="346.3" stroke="#222" stroke-width="1"/>
<text x="310.4" y="349.2" font-size="8.3" font-weight="bold" text-anchor="end" fill="#000">100</text>
<line x1="310.79999999999995" y1="315.40000000000003" x2="313.4" y2="315.40000000000003" stroke="#222" stroke-width="1"/>
<text x="310.4" y="318.3" font-size="8.3" font-weight="bold" text-anchor="end" fill="#000">150</text>
<line x1="310.79999999999995" y1="284.5" x2="313.4" y2="284.5" stroke="#222" stroke-width="1"/>
<text x="310.4" y="287.4" font-size="8.3" font-weight="bold" text-anchor="end" fill="#000">200</text>
<line x1="310.79999999999995" y1="253.60000000000002" x2="313.4" y2="253.60000000000002" stroke="#222" stroke-width="1"/>
<text x="310.4" y="256.5" font-size="8.3" font-weight="bold" text-anchor="end" fill="#000">250</text>
<line x1="334.89" y1="408.1" x2="334.89" y2="410.1" stroke="#444" stroke-width="0.8"/>
<line x1="355.07000000000005" y1="408.1" x2="355.07000000000005" y2="410.1" stroke="#444" stroke-width="0.8"/>
<line x1="375.25" y1="408.1" x2="375.25" y2="410.1" stroke="#444" stroke-width="0.8"/>
<line x1="395.43" y1="408.1" x2="395.43" y2="410.1" stroke="#444" stroke-width="0.8"/>
<line x1="415.61" y1="408.1" x2="415.61" y2="410.1" stroke="#444" stroke-width="0.8"/>
<line x1="435.79" y1="408.1" x2="435.79" y2="410.1" stroke="#444" stroke-width="0.8"/>
<line x1="455.97" y1="408.1" x2="455.97" y2="410.1" stroke="#444" stroke-width="0.8"/>
<line x1="476.15" y1="408.1" x2="476.15" y2="410.1" stroke="#444" stroke-width="0.8"/>
<line x1="496.33000000000004" y1="408.1" x2="496.33000000000004" y2="410.1" stroke="#444" stroke-width="0.8"/>
<text x="324.8" y="416.6" font-size="8.1" font-weight="bold" text-anchor="middle" fill="#000">0</text>
<text x="344.98" y="416.6" font-size="8.1" font-weight="bold" text-anchor="middle" fill="#000">3.1</text>
<text x="365.16" y="416.6" font-size="8.1" font-weight="bold" text-anchor="middle" fill="#000">6.3</text>
<text x="385.34000000000003" y="416.6" font-size="8.1" font-weight="bold" text-anchor="middle" fill="#000">12.5</text>
<text x="405.52" y="416.6" font-size="8.1" font-weight="bold" text-anchor="middle" fill="#000">25</text>
<text x="425.70000000000005" y="416.6" font-size="8.1" font-weight="bold" text-anchor="middle" fill="#000">50</text>
<text x="445.88" y="416.6" font-size="8.1" font-weight="bold" text-anchor="middle" fill="#000">100</text>
<text x="466.06" y="416.6" font-size="8.1" font-weight="bold" text-anchor="middle" fill="#000">200</text>
<text x="486.24" y="416.6" font-size="8.1" font-weight="bold" text-anchor="middle" fill="#000">400</text>
<text x="506.42" y="416.6" font-size="8.1" font-weight="bold" text-anchor="middle" fill="#000">800</text>
<text x="419.2" y="426" font-size="9" font-weight="bold" text-anchor="middle" fill="#000">PF4 (µg/mL)</text>
<line x1="344.98" y1="398.5" x2="344.98" y2="393.6" stroke="#999" stroke-width="0.9"/>
<line x1="342.58000000000004" y1="393.6" x2="347.38" y2="393.6" stroke="#999" stroke-width="0.9"/>
<line x1="365.16" y1="394.7" x2="365.16" y2="388.3" stroke="#999" stroke-width="0.9"/>
<line x1="362.76000000000005" y1="388.3" x2="367.56" y2="388.3" stroke="#999" stroke-width="0.9"/>
<line x1="385.34000000000003" y1="389" x2="385.34000000000003" y2="384.1" stroke="#999" stroke-width="0.9"/>
<line x1="382.94000000000005" y1="384.1" x2="387.74" y2="384.1" stroke="#999" stroke-width="0.9"/>
<line x1="405.52" y1="389.3" x2="405.52" y2="385.8" stroke="#999" stroke-width="0.9"/>
<line x1="403.12" y1="385.8" x2="407.91999999999996" y2="385.8" stroke="#999" stroke-width="0.9"/>
<line x1="425.70000000000005" y1="390.6" x2="425.70000000000005" y2="386" stroke="#999" stroke-width="0.9"/>
<line x1="423.30000000000007" y1="386" x2="428.1" y2="386" stroke="#999" stroke-width="0.9"/>
<line x1="445.88" y1="391.9" x2="445.88" y2="386.5" stroke="#999" stroke-width="0.9"/>
<line x1="443.48" y1="386.5" x2="448.28" y2="386.5" stroke="#999" stroke-width="0.9"/>
<line x1="466.06" y1="390.6" x2="466.06" y2="386" stroke="#999" stroke-width="0.9"/>
<line x1="463.66" y1="386" x2="468.46" y2="386" stroke="#999" stroke-width="0.9"/>
<line x1="486.24" y1="392.7" x2="486.24" y2="388" stroke="#999" stroke-width="0.9"/>
<line x1="483.84000000000003" y1="388" x2="488.64" y2="388" stroke="#999" stroke-width="0.9"/>
<line x1="506.42" y1="397.5" x2="506.42" y2="392.7" stroke="#999" stroke-width="0.9"/>
<line x1="504.02000000000004" y1="392.7" x2="508.82" y2="392.7" stroke="#999" stroke-width="0.9"/>
<line x1="324.8" y1="403.1" x2="324.8" y2="398.5" stroke="#333" stroke-width="1.0"/>
<line x1="322.40000000000003" y1="398.5" x2="327.2" y2="398.5" stroke="#333" stroke-width="1.0"/>
<line x1="344.98" y1="361" x2="344.98" y2="349.8" stroke="#333" stroke-width="1.0"/>
<line x1="342.58000000000004" y1="349.8" x2="347.38" y2="349.8" stroke="#333" stroke-width="1.0"/>
<line x1="365.16" y1="316" x2="365.16" y2="306.4" stroke="#333" stroke-width="1.0"/>
<line x1="362.76000000000005" y1="306.4" x2="367.56" y2="306.4" stroke="#333" stroke-width="1.0"/>
<line x1="385.34000000000003" y1="294.4" x2="385.34000000000003" y2="283.6" stroke="#333" stroke-width="1.0"/>
<line x1="382.94000000000005" y1="283.6" x2="387.74" y2="283.6" stroke="#333" stroke-width="1.0"/>
<line x1="405.52" y1="272.5" x2="405.52" y2="257.4" stroke="#333" stroke-width="1.0"/>
<line x1="403.12" y1="257.4" x2="407.91999999999996" y2="257.4" stroke="#333" stroke-width="1.0"/>
<line x1="425.70000000000005" y1="281.7" x2="425.70000000000005" y2="274.3" stroke="#333" stroke-width="1.0"/>
<line x1="423.30000000000007" y1="274.3" x2="428.1" y2="274.3" stroke="#333" stroke-width="1.0"/>
<line x1="445.88" y1="304.2" x2="445.88" y2="291" stroke="#333" stroke-width="1.0"/>
<line x1="443.48" y1="291" x2="448.28" y2="291" stroke="#333" stroke-width="1.0"/>
<line x1="466.06" y1="348.3" x2="466.06" y2="335.1" stroke="#333" stroke-width="1.0"/>
<line x1="463.66" y1="335.1" x2="468.46" y2="335.1" stroke="#333" stroke-width="1.0"/>
<line x1="486.24" y1="350.4" x2="486.24" y2="342.5" stroke="#333" stroke-width="1.0"/>
<line x1="483.84000000000003" y1="342.5" x2="488.64" y2="342.5" stroke="#333" stroke-width="1.0"/>
<line x1="506.42" y1="370.2" x2="506.42" y2="362.3" stroke="#333" stroke-width="1.0"/>
<line x1="504.02000000000004" y1="362.3" x2="508.82" y2="362.3" stroke="#333" stroke-width="1.0"/>
<polyline points="324.80,404.00 344.98,398.50 365.16,394.70 385.34,389.00 405.52,389.30 425.70,390.60 445.88,391.90 466.06,390.60 486.24,392.70 506.42,397.50" fill="none" stroke="#888" stroke-width="0.9" stroke-linejoin="round"/>
<polyline points="324.80,403.10 344.98,361.00 365.16,316.00 385.34,294.40 405.52,272.50 425.70,281.70 445.88,304.20 466.06,348.30 486.24,350.40 506.42,370.20" fill="none" stroke="#000" stroke-width="1.4" stroke-linejoin="round"/>
<path d="M324.8 400.3L328.5 404L324.8 407.7L321.1 404Z" fill="#fff" stroke="#000" stroke-width="1.1"/>
<path d="M344.98 394.8L348.68 398.5L344.98 402.2L341.28000000000003 398.5Z" fill="#fff" stroke="#000" stroke-width="1.1"/>
<path d="M365.16 391.0L368.86 394.7L365.16 398.4L361.46000000000004 394.7Z" fill="#fff" stroke="#000" stroke-width="1.1"/>
<path d="M385.34000000000003 385.3L389.04 389L385.34000000000003 392.7L381.64000000000004 389Z" fill="#fff" stroke="#000" stroke-width="1.1"/>
<path d="M405.52 385.6L409.21999999999997 389.3L405.52 393.0L401.82 389.3Z" fill="#fff" stroke="#000" stroke-width="1.1"/>
<path d="M425.70000000000005 386.90000000000003L429.40000000000003 390.6L425.70000000000005 394.3L422.00000000000006 390.6Z" fill="#fff" stroke="#000" stroke-width="1.1"/>
<path d="M445.88 388.2L449.58 391.9L445.88 395.59999999999997L442.18 391.9Z" fill="#fff" stroke="#000" stroke-width="1.1"/>
<path d="M466.06 386.90000000000003L469.76 390.6L466.06 394.3L462.36 390.6Z" fill="#fff" stroke="#000" stroke-width="1.1"/>
<path d="M486.24 389.0L489.94 392.7L486.24 396.4L482.54 392.7Z" fill="#fff" stroke="#000" stroke-width="1.1"/>
<path d="M506.42 393.8L510.12 397.5L506.42 401.2L502.72 397.5Z" fill="#fff" stroke="#000" stroke-width="1.1"/>
<circle cx="324.8" cy="403.1" r="2.9" fill="#000"/>
<circle cx="344.98" cy="361" r="2.9" fill="#000"/>
<circle cx="365.16" cy="316" r="2.9" fill="#000"/>
<circle cx="385.34000000000003" cy="294.4" r="2.9" fill="#000"/>
<circle cx="405.52" cy="272.5" r="2.9" fill="#000"/>
<circle cx="425.70000000000005" cy="281.7" r="2.9" fill="#000"/>
<circle cx="445.88" cy="304.2" r="2.9" fill="#000"/>
<circle cx="466.06" cy="348.3" r="2.9" fill="#000"/>
<circle cx="486.24" cy="350.4" r="2.9" fill="#000"/>
<circle cx="506.42" cy="370.2" r="2.9" fill="#000"/>
<line x1="464.2" y1="273.7" x2="479" y2="273.7" stroke="#000" stroke-width="1.4"/>
<circle cx="471.6" cy="273.7" r="2.9" fill="#000"/>
<text x="481.0" y="276.3" font-size="7.9" font-weight="bold" textLength="35.3" lengthAdjust="spacing">Fc<tspan font-weight="normal">γ</tspan>RIIA<tspan font-size="7.5" dy="-3.3">+</tspan></text>
<line x1="464.2" y1="290.3" x2="479" y2="290.3" stroke="#888" stroke-width="0.9"/>
<path d="M471.6 286.6L475.3 290.3L471.6 294.0L467.90000000000003 290.3Z" fill="#fff" stroke="#000" stroke-width="1.1"/>
<text x="481.9" y="292.90000000000003" font-size="7.9" font-weight="bold" textLength="33.7" lengthAdjust="spacing">Fc<tspan font-weight="normal">γ</tspan>RIIA<tspan font-size="6" dy="-3.3">−</tspan></text>
<text transform="translate(139.67 474.4) scale(0.92 1)" font-size="24.9" font-weight="bold">E</text>
<line x1="177.3" y1="484.0" x2="177.3" y2="624.2" stroke="#111" stroke-width="1.1"/>
<line x1="177.3" y1="624.2" x2="405.4" y2="624.2" stroke="#111" stroke-width="1.1"/>
<line x1="174.70000000000002" y1="624.2" x2="177.3" y2="624.2" stroke="#222" stroke-width="1"/>
<text x="174.2" y="627.1" font-size="8.3" font-weight="bold" text-anchor="end" fill="#000">0</text>
<line x1="174.70000000000002" y1="600.85" x2="177.3" y2="600.85" stroke="#222" stroke-width="1"/>
<text x="174.2" y="603.75" font-size="8.3" font-weight="bold" text-anchor="end" fill="#000">50</text>
<line x1="174.70000000000002" y1="577.5" x2="177.3" y2="577.5" stroke="#222" stroke-width="1"/>
<text x="174.2" y="580.4" font-size="8.3" font-weight="bold" text-anchor="end" fill="#000">100</text>
<line x1="174.70000000000002" y1="554.1500000000001" x2="177.3" y2="554.1500000000001" stroke="#222" stroke-width="1"/>
<text x="174.2" y="557.0500000000001" font-size="8.3" font-weight="bold" text-anchor="end" fill="#000">150</text>
<line x1="174.70000000000002" y1="530.8000000000001" x2="177.3" y2="530.8000000000001" stroke="#222" stroke-width="1"/>
<text x="174.2" y="533.7" font-size="8.3" font-weight="bold" text-anchor="end" fill="#000">200</text>
<line x1="174.70000000000002" y1="507.45000000000005" x2="177.3" y2="507.45000000000005" stroke="#222" stroke-width="1"/>
<text x="174.2" y="510.35" font-size="8.3" font-weight="bold" text-anchor="end" fill="#000">250</text>
<line x1="174.70000000000002" y1="484.1" x2="177.3" y2="484.1" stroke="#222" stroke-width="1"/>
<text x="174.2" y="487.0" font-size="8.3" font-weight="bold" text-anchor="end" fill="#000">300</text>
<line x1="177.5" y1="624.2" x2="177.5" y2="626.8000000000001" stroke="#222" stroke-width="1"/>
<text x="177.5" y="636.3" font-size="8.4" font-weight="bold" text-anchor="middle" fill="#000">0</text>
<line x1="253.575" y1="624.2" x2="253.575" y2="626.8000000000001" stroke="#222" stroke-width="1"/>
<text x="253.575" y="636.3" font-size="8.4" font-weight="bold" text-anchor="middle" fill="#000">50</text>
<line x1="329.65" y1="624.2" x2="329.65" y2="626.8000000000001" stroke="#222" stroke-width="1"/>
<text x="329.65" y="636.3" font-size="8.4" font-weight="bold" text-anchor="middle" fill="#000">100</text>
<line x1="405.725" y1="624.2" x2="405.725" y2="626.8000000000001" stroke="#222" stroke-width="1"/>
<text x="405.725" y="636.3" font-size="8.4" font-weight="bold" text-anchor="middle" fill="#000">150</text>
<text x="275.4" y="640.8" font-size="8.5" font-weight="bold" text-anchor="start" fill="#000" textLength="32.3" lengthAdjust="spacing">Minutes</text>
<text x="152.8" y="553.45" font-size="8" font-weight="bold" text-anchor="middle" transform="rotate(-90 152.8 553.45)" textLength="58.5" lengthAdjust="spacing">Absolute MFI</text>
<path d="M177.50 609.90C178.77 609.25 182.57 607.35 185.11 606.00C187.64 604.65 190.18 602.73 192.72 601.80C195.25 600.87 197.79 600.83 200.32 600.40C202.86 599.97 205.39 599.60 207.93 599.20C210.47 598.80 213.00 598.45 215.54 598.00C218.07 597.55 219.34 597.83 223.15 596.50C226.95 595.17 233.29 591.82 238.36 590.00C243.43 588.18 248.50 586.55 253.57 585.60C258.65 584.65 262.45 585.63 268.79 584.30C275.13 582.97 284.00 579.42 291.61 577.60C299.22 575.78 300.49 572.93 314.44 573.40C328.38 573.87 365.15 579.23 375.30 580.40" fill="none" stroke="#111" stroke-width="1.0" stroke-linejoin="round"/>
<path d="M177.50 610.50C178.77 610.10 182.57 608.58 185.11 608.10C187.64 607.62 190.18 608.32 192.72 607.60C195.25 606.88 197.79 604.83 200.32 603.80C202.86 602.77 205.39 602.25 207.93 601.40C210.47 600.55 213.00 599.92 215.54 598.70C218.07 597.48 219.34 595.60 223.15 594.10C226.95 592.60 233.29 591.77 238.36 589.70C243.43 587.63 248.50 582.77 253.57 581.70C258.65 580.63 262.45 584.42 268.79 583.30C275.13 582.18 284.00 577.72 291.61 575.00C299.22 572.28 300.49 569.42 314.44 567.00C328.38 564.58 365.15 561.58 375.30 560.50" fill="none" stroke="#000" stroke-width="1.0" stroke-linejoin="round"/>
<path d="M177.50 611.50C178.77 609.10 182.57 600.95 185.11 597.10C187.64 593.25 190.18 590.92 192.72 588.40C195.25 585.88 197.79 584.37 200.32 582.00C202.86 579.63 205.39 575.53 207.93 574.20C210.47 572.87 213.00 576.28 215.54 574.00C218.07 571.72 219.34 563.05 223.15 560.50C226.95 557.95 233.29 561.70 238.36 558.70C243.43 555.70 248.50 547.13 253.57 542.50C258.65 537.87 262.45 534.98 268.79 530.90C275.13 526.82 284.00 521.35 291.61 518.00C299.22 514.65 300.49 510.12 314.44 510.80C328.38 511.48 365.15 520.22 375.30 522.10" fill="none" stroke="#000" stroke-width="1.25" stroke-linejoin="round"/>
<rect x="182.05749999999998" y="602.95" width="6.1" height="6.1" fill="#909090" stroke="#222" stroke-width="0.9"/>
<rect x="189.665" y="598.75" width="6.1" height="6.1" fill="#909090" stroke="#222" stroke-width="0.9"/>
<rect x="197.27249999999998" y="597.35" width="6.1" height="6.1" fill="#909090" stroke="#222" stroke-width="0.9"/>
<rect x="204.88" y="596.1500000000001" width="6.1" height="6.1" fill="#909090" stroke="#222" stroke-width="0.9"/>
<rect x="212.48749999999998" y="594.95" width="6.1" height="6.1" fill="#909090" stroke="#222" stroke-width="0.9"/>
<rect x="220.095" y="593.45" width="6.1" height="6.1" fill="#909090" stroke="#222" stroke-width="0.9"/>
<rect x="235.31" y="586.95" width="6.1" height="6.1" fill="#909090" stroke="#222" stroke-width="0.9"/>
<rect x="250.52499999999998" y="582.5500000000001" width="6.1" height="6.1" fill="#909090" stroke="#222" stroke-width="0.9"/>
<rect x="265.74" y="581.25" width="6.1" height="6.1" fill="#909090" stroke="#222" stroke-width="0.9"/>
<rect x="288.5625" y="574.5500000000001" width="6.1" height="6.1" fill="#909090" stroke="#222" stroke-width="0.9"/>
<rect x="311.385" y="570.35" width="6.1" height="6.1" fill="#909090" stroke="#222" stroke-width="0.9"/>
<rect x="372.245" y="577.35" width="6.1" height="6.1" fill="#909090" stroke="#222" stroke-width="0.9"/>
<circle cx="177.5" cy="610.5" r="2.9379999999999997" fill="#fff" stroke="#000" stroke-width="1"/>
<circle cx="185.1075" cy="608.1" r="2.9379999999999997" fill="#fff" stroke="#000" stroke-width="1"/>
<circle cx="192.715" cy="607.6" r="2.9379999999999997" fill="#fff" stroke="#000" stroke-width="1"/>
<circle cx="200.3225" cy="603.8" r="2.9379999999999997" fill="#fff" stroke="#000" stroke-width="1"/>
<circle cx="207.93" cy="601.4" r="2.9379999999999997" fill="#fff" stroke="#000" stroke-width="1"/>
<circle cx="215.5375" cy="598.7" r="2.9379999999999997" fill="#fff" stroke="#000" stroke-width="1"/>
<circle cx="223.145" cy="594.1" r="2.9379999999999997" fill="#fff" stroke="#000" stroke-width="1"/>
<circle cx="238.36" cy="589.7" r="2.9379999999999997" fill="#fff" stroke="#000" stroke-width="1"/>
<circle cx="253.575" cy="581.7" r="2.9379999999999997" fill="#fff" stroke="#000" stroke-width="1"/>
<circle cx="268.79" cy="583.3" r="2.9379999999999997" fill="#fff" stroke="#000" stroke-width="1"/>
<circle cx="291.6125" cy="575" r="2.9379999999999997" fill="#fff" stroke="#000" stroke-width="1"/>
<circle cx="314.435" cy="567" r="2.9379999999999997" fill="#fff" stroke="#000" stroke-width="1"/>
<circle cx="375.295" cy="560.5" r="2.9379999999999997" fill="#fff" stroke="#000" stroke-width="1"/>
<path d="M177.5 607.319L181.681 611.5L177.5 615.681L173.319 611.5Z" fill="#000"/>
<path d="M185.1075 592.919L189.2885 597.1L185.1075 601.2810000000001L180.92649999999998 597.1Z" fill="#000"/>
<path d="M192.715 584.2189999999999L196.89600000000002 588.4L192.715 592.581L188.534 588.4Z" fill="#000"/>
<path d="M200.3225 577.819L204.5035 582L200.3225 586.181L196.14149999999998 582Z" fill="#000"/>
<path d="M207.93 570.019L212.11100000000002 574.2L207.93 578.3810000000001L203.749 574.2Z" fill="#000"/>
<path d="M215.5375 569.819L219.7185 574L215.5375 578.181L211.35649999999998 574Z" fill="#000"/>
<path d="M223.145 556.319L227.32600000000002 560.5L223.145 564.681L218.964 560.5Z" fill="#000"/>
<path d="M238.36 554.519L242.54100000000003 558.7L238.36 562.8810000000001L234.179 558.7Z" fill="#000"/>
<path d="M253.575 538.319L257.756 542.5L253.575 546.681L249.39399999999998 542.5Z" fill="#000"/>
<path d="M268.79 526.7189999999999L272.971 530.9L268.79 535.081L264.60900000000004 530.9Z" fill="#000"/>
<path d="M291.6125 513.819L295.7935 518L291.6125 522.181L287.4315 518Z" fill="#000"/>
<path d="M314.435 506.619L318.616 510.8L314.435 514.981L310.254 510.8Z" fill="#000"/>
<path d="M375.295 517.919L379.476 522.1L375.295 526.2810000000001L371.11400000000003 522.1Z" fill="#000"/>
<rect x="174.45" y="606.85" width="6.1" height="6.1" fill="#909090" stroke="#222" stroke-width="0.9"/>
<line x1="198.1" y1="494" x2="217.5" y2="494" stroke="#000" stroke-width="1.3"/>
<path d="M207.5 489.56L211.94 494L207.5 498.44L203.06 494Z" fill="#000"/>
<text x="217.9" y="496.9" font-size="8" font-weight="bold" textLength="32.1" lengthAdjust="spacing">KKO,+/+</text>
<line x1="198.1" y1="506.5" x2="217.5" y2="506.5" stroke="#000" stroke-width="1.3"/>
<rect x="204.5" y="503.5" width="6.0" height="6.0" fill="#909090" stroke="#222" stroke-width="0.9"/>
<text x="217.9" y="509.4" font-size="8" font-weight="bold" textLength="32.1" lengthAdjust="spacing">RTO,+/+</text>
<line x1="198.1" y1="519" x2="217.5" y2="519" stroke="#000" stroke-width="1.3"/>
<circle cx="207.5" cy="519" r="3.12" fill="#fff" stroke="#000" stroke-width="1"/>
<text x="217.9" y="521.9" font-size="8" font-weight="bold" textLength="32.1" lengthAdjust="spacing">KKO,+/-</text>
</svg></body></html>
